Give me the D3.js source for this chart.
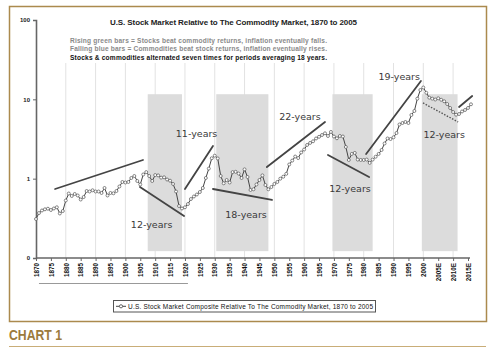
<!DOCTYPE html>
<html><head><meta charset="utf-8">
<script src="https://cdn.jsdelivr.net/npm/d3@7/dist/d3.min.js"></script>
<style>body{margin:0;background:#fff}svg{display:block}</style>
</head><body><svg id="c" width="500" height="355"></svg>
<script>
// ---- data ----
const firstYear = 1870;
const ratio = [
 0.310,0.369,0.397,0.411,0.418,0.403,0.421,0.436,0.364,0.391, // 1870s
 0.531,0.650,0.605,0.641,0.614,0.546,0.587,0.699,0.689,0.714, // 1880s
 0.689,0.689,0.660,0.763,0.614,0.660,0.654,0.699,0.797,0.908, // 1890s
 0.895,0.908,1.02,1.08,0.935,0.845,1.13,1.21,1.08,0.935,      // 1900s
 1.11,1.10,1.03,1.04,0.976,0.943,0.857,0.689,0.452,0.421,     // 1910s
 0.436,0.479,0.554,0.596,0.632,0.679,0.763,1.02,1.34,1.81,    // 1920s
 1.95,1.80,1.08,0.874,0.962,0.895,1.21,1.22,1.16,1.02,        // 1930s
 1.31,1.05,0.720,0.735,0.845,0.962,1.10,0.832,0.735,0.785,    // 1940s
 0.857,0.908,1.00,1.06,1.15,1.51,1.69,1.90,1.82,2.14,         // 1950s
 2.33,2.66,2.82,2.96,3.21,3.37,3.55,3.73,3.45,3.88,           // 1960s
 3.40,3.23,3.45,3.40,2.51,1.72,2.05,2.11,1.74,1.72,           // 1970s
 1.72,1.74,1.58,1.74,1.89,2.05,2.30,2.78,3.21,3.16,           // 1980s
 3.32,3.76,4.82,5.03,5.18,5.03,6.35,7.13,10.2,13.1,           // 1990s
 14.1,12.1,10.5,10.2,9.95,10.3,9.87,9.45,8.73,7.78,           // 2000s
 6.92,6.40,6.53,7.03,7.34,7.78,8.66                           // 2010s
];
const shadedPeriods = [[1907.5,1919],[1930.5,1948],[1969.5,1983],[1999.5,2011.5]];
const shadeRange = [0.122, 11.6];
const trendLines = [
 [[1876.4,0.741],[1905.9,1.72]],
 [[1904.9,0.785],[1919.7,0.339]],
 [[1920.0,0.741],[1929.4,2.58]],
 [[1929.4,0.741],[1949.2,0.539]],
 [[1947.5,1.40],[1967.0,5.18]],
 [[1968.0,1.99],[1981.8,1.05]],
 [[1980.8,2.05],[1999.2,17.0]],
 [[2012.0,8.0],[2016.4,11.0]]
];
const dottedTrend = [[1999.9,9.0],[2011.7,5.18]];
const periodLabels = ["12-years","11-years","18-years","22-years","12-years","19-years","12-years"];
const periodLabelYears = [1908.8,1923.9,1940.5,1958.6,1975.4,1991.9,2007.0];
const periodLabelValues = [0.239,3.35,0.315,5.49,0.679,17.5,3.30];
const gridYears = [1880,1890,1900,1910,1920,1930,1940,1950,1960,1970,1980,1990,2000,2010];
const xTickYears = [1870,1875,1880,1885,1890,1895,1900,1905,1910,1915,1920,1925,1930,1935,1940,1945,1950,1955,1960,1965,1970,1975,1980,1985,1990,1995,2000,2005,2010,2015];
const xTickLabels = ["1870","1875","1880","1885","1890","1895","1900","1905","1910","1915","1920","1925","1930","1935","1940","1945","1950","1955","1960","1965","1970","1975","1980","1985","1990","1995","2000","2005E","2010E","2015E"];
const yTickValues = [0.1,1,10,100];
const yTickLabels = ["0","1","10","100"];
const titleText = "U.S. Stock Market Relative to The Commodity Market, 1870 to 2005";
const noteLines = ["Rising green bars = Stocks beat commodity returns, inflation eventually falls.",
 "Falling blue bars = Commodities beat stock returns, inflation eventually rises.",
 "Stocks & commodities alternated seven times for periods averaging 18 years."];
const legendText = "U.S. Stock Market Composite Relative To The Commodity Market, 1870 to 2005";
const captionText = "CHART 1";

// ---- drawing ----
const svg = d3.select("#c");
const gold = "#ab8a4e";
const x = d3.scaleLinear().domain([1870, 2015]).range([36, 468]);
const y = d3.scaleLog().domain([0.1, 100]).range([258, 20]);

// frame
svg.append("rect").attr("x",9.5).attr("y",6.5).attr("width",477).attr("height",315)
  .attr("fill","#fff").attr("stroke",gold).attr("stroke-width",1.5);

// grid
svg.append("g").selectAll("line").data(gridYears).join("line")
  .attr("x1",d=>x(d)).attr("x2",d=>x(d)).attr("y1",63).attr("y2",y(0.1))
  .attr("stroke","#e2e2e2").attr("stroke-width",1);

// shaded bars
svg.append("g").selectAll("rect").data(shadedPeriods).join("rect")
  .attr("x",d=>x(d[0])).attr("width",d=>x(d[1])-x(d[0]))
  .attr("y",y(shadeRange[1])).attr("height",y(shadeRange[0])-y(shadeRange[1]))
  .attr("fill","#dcdcdc");

// title + notes
svg.append("text").attr("x",110).attr("y",25).attr("textLength",247)
  .attr("font-family","Liberation Sans, Arial, sans-serif").attr("font-weight","bold")
  .attr("font-size",8).attr("fill","#222").text(titleText);
const noteColors = ["#8a8a8a","#8a8a8a","#111"];
const noteY = [42.5,50.5,59.5];
noteLines.forEach((t,i)=>{
  svg.append("text").attr("x",70).attr("y",noteY[i]).attr("textLength",257)
    .attr("font-family","Liberation Sans, Arial, sans-serif").attr("font-weight","bold")
    .attr("font-size",6.6).attr("fill",noteColors[i]).text(t);
});

// axes
const yAxis = d3.axisLeft(y).tickValues(yTickValues).tickFormat((d,i)=>yTickLabels[i]).tickSize(3).tickPadding(3);
const gy = svg.append("g").attr("transform",`translate(${x(1870)},0)`).call(yAxis);
gy.select(".domain").attr("stroke","#666").attr("stroke-width",1.6);
gy.selectAll(".tick line").attr("stroke","#666");
gy.selectAll("text").attr("font-family","Liberation Sans, Arial, sans-serif").attr("font-weight","bold").attr("font-size",6).attr("fill","#222");

const xAxis = d3.axisBottom(x).tickValues(xTickYears).tickFormat((d,i)=>xTickLabels[i]).tickSize(3).tickSizeOuter(0);
const gx = svg.append("g").attr("transform",`translate(0,${y(0.1)})`).call(xAxis);
gx.select(".domain").attr("stroke","#666").attr("stroke-width",1.6).attr("d",`M${x(1870)},0H${x(2015)+2}`);
gx.selectAll(".tick line").attr("stroke","#666");
gx.selectAll("text").attr("font-family","Liberation Sans, Arial, sans-serif").attr("font-weight","bold")
  .attr("font-size",6.3).attr("fill","#111")
  .attr("text-anchor","end").attr("transform","rotate(-90)")
  .attr("x",-5).attr("y",0).attr("dy","0.35em");

// stray underline below axis labels
svg.append("line").attr("x1",x(1871)).attr("x2",x(1921)).attr("y1",283.5).attr("y2",283.5)
  .attr("stroke","#999").attr("stroke-width",1);

// trend lines
svg.append("g").selectAll("line").data(trendLines).join("line")
  .attr("x1",d=>x(d[0][0])).attr("y1",d=>y(d[0][1]))
  .attr("x2",d=>x(d[1][0])).attr("y2",d=>y(d[1][1]))
  .attr("stroke","#444").attr("stroke-width",1.8).attr("stroke-linecap","round");
svg.append("line")
  .attr("x1",x(dottedTrend[0][0])).attr("y1",y(dottedTrend[0][1]))
  .attr("x2",x(dottedTrend[1][0])).attr("y2",y(dottedTrend[1][1]))
  .attr("stroke","#555").attr("stroke-width",1.4).attr("stroke-dasharray","1.5,1.5");

// series
const series = ratio.map((v,i)=>({year:firstYear+i, v}));
svg.append("path").datum(series)
  .attr("d",d3.line().x(d=>x(d.year)).y(d=>y(d.v)))
  .attr("fill","none").attr("stroke","#444").attr("stroke-width",1);
svg.append("g").selectAll("circle").data(series).join("circle")
  .attr("cx",d=>x(d.year)).attr("cy",d=>y(d.v)).attr("r",1.5)
  .attr("fill","#fff").attr("stroke","#555").attr("stroke-width",0.7);

// period labels
svg.append("g").selectAll("text").data(periodLabels).join("text")
  .attr("x",(d,i)=>x(periodLabelYears[i])).attr("y",(d,i)=>y(periodLabelValues[i]))
  .attr("text-anchor","middle").attr("font-family","DejaVu Sans, Verdana, sans-serif")
  .attr("font-size",9.5).attr("fill","#3a3a3a").text(d=>d);

// legend
svg.append("rect").attr("x",113.5).attr("y",300.5).attr("width",262).attr("height",11.5)
  .attr("fill","#fff").attr("stroke","#555").attr("stroke-width",1);
svg.append("line").attr("x1",116).attr("x2",126).attr("y1",306.3).attr("y2",306.3).attr("stroke","#444").attr("stroke-width",1);
svg.append("circle").attr("cx",121).attr("cy",306.3).attr("r",1.6).attr("fill","#fff").attr("stroke","#444").attr("stroke-width",0.8);
svg.append("text").attr("x",128).attr("y",308.6).attr("textLength",245)
  .attr("font-family","Liberation Sans, Arial, sans-serif").attr("font-size",6.5).attr("fill","#111")
  .text(legendText);

// caption
svg.append("text").attr("x",9).attr("y",340).attr("font-family","Liberation Sans, Arial, sans-serif")
  .attr("font-weight","bold").attr("font-size",14.5).attr("textLength",53).attr("lengthAdjust","spacingAndGlyphs")
  .attr("fill","#9c7a3c").text(captionText);
svg.append("line").attr("x1",9).attr("x2",486).attr("y1",346.5).attr("y2",346.5).attr("stroke","#c9ad78").attr("stroke-width",1);
</script>
</body></html>
